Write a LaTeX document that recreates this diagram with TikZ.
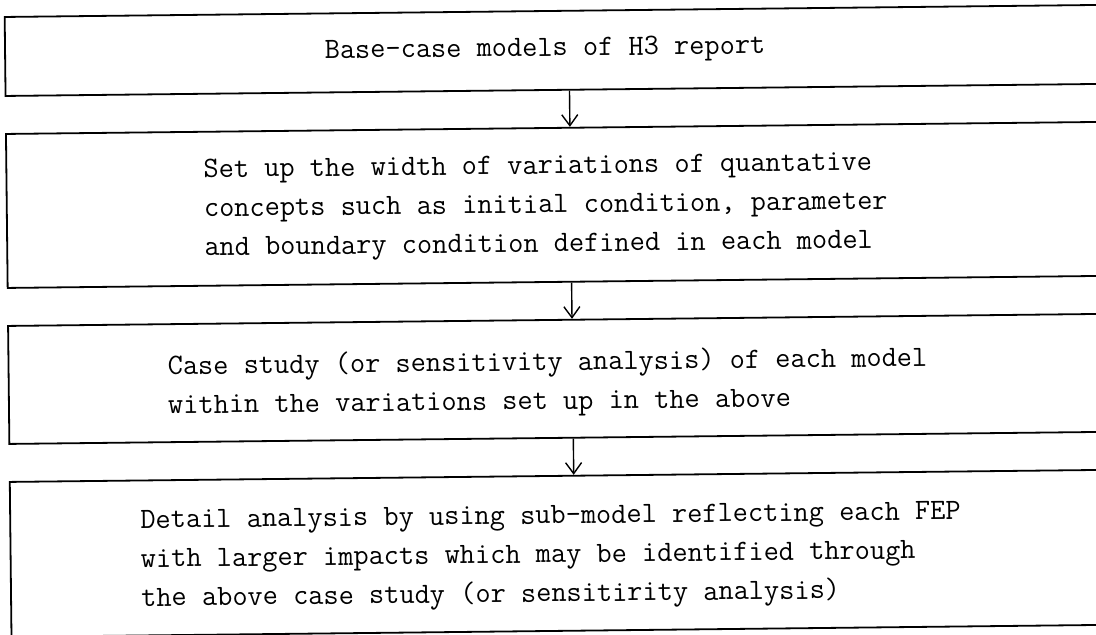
\documentclass[tikz,border=0pt]{standalone}
\usetikzlibrary{arrows.meta}
\begin{document}
\begin{tikzpicture}[x=1pt,y=-1pt,
  stage/.style={draw=black, line width=1.8pt, rectangle, inner sep=0pt, minimum width=1102pt},
  label/.style={font=\fontsize{29.5}{39}\selectfont\ttfamily, inner sep=0pt, align=left, anchor=west},
  flow/.style={line width=1.4pt, -{Straight Barb[length=11pt,width=16pt]}}]

\useasboundingbox (0,0) rectangle (1096,635);
\clip (0,0) rectangle (1096,635);

\begin{scope}[rotate around={0.63:(548,318)}, transform shape]
  % the four stages of the procedure
  \node[stage, minimum height=79pt]  (s1) at (559,50.5) {};
  \node[stage, minimum height=154pt] (s2) at (559,205) {};
  \node[stage, minimum height=118pt] (s3) at (559,379) {};
  \node[stage, minimum height=155pt] (s4) at (559,553.5) {};

  \node[label, anchor=center] (t1) at (548,50) {Base-case models of H3 report};
  \node[label] (t2) at (205,207) {Set up the width of variations of quantative\\
    concepts such as initial condition, parameter\\
    and boundary condition defined in each model};
  \node[label] (t3) at (167,383) {Case study (or sensitivity analysis) of each model\\
    within the variations set up in the above};
  \node[label] (t4) at (138,557) {Detail analysis by using sub-model reflecting each FEP\\
    with larger impacts which may be identified through\\
    the above case study (or sensitirity analysis)};

  % downward flow between the stages
  \coordinate (ax) at (572,0);
  \draw[flow] (s1.south -| ax) -- (s2.north -| ax);
  \draw[flow] (s2.south -| ax) -- (s3.north -| ax);
  \draw[flow] (s3.south -| ax) -- (s4.north -| ax);
\end{scope}
\end{tikzpicture}
\end{document}
